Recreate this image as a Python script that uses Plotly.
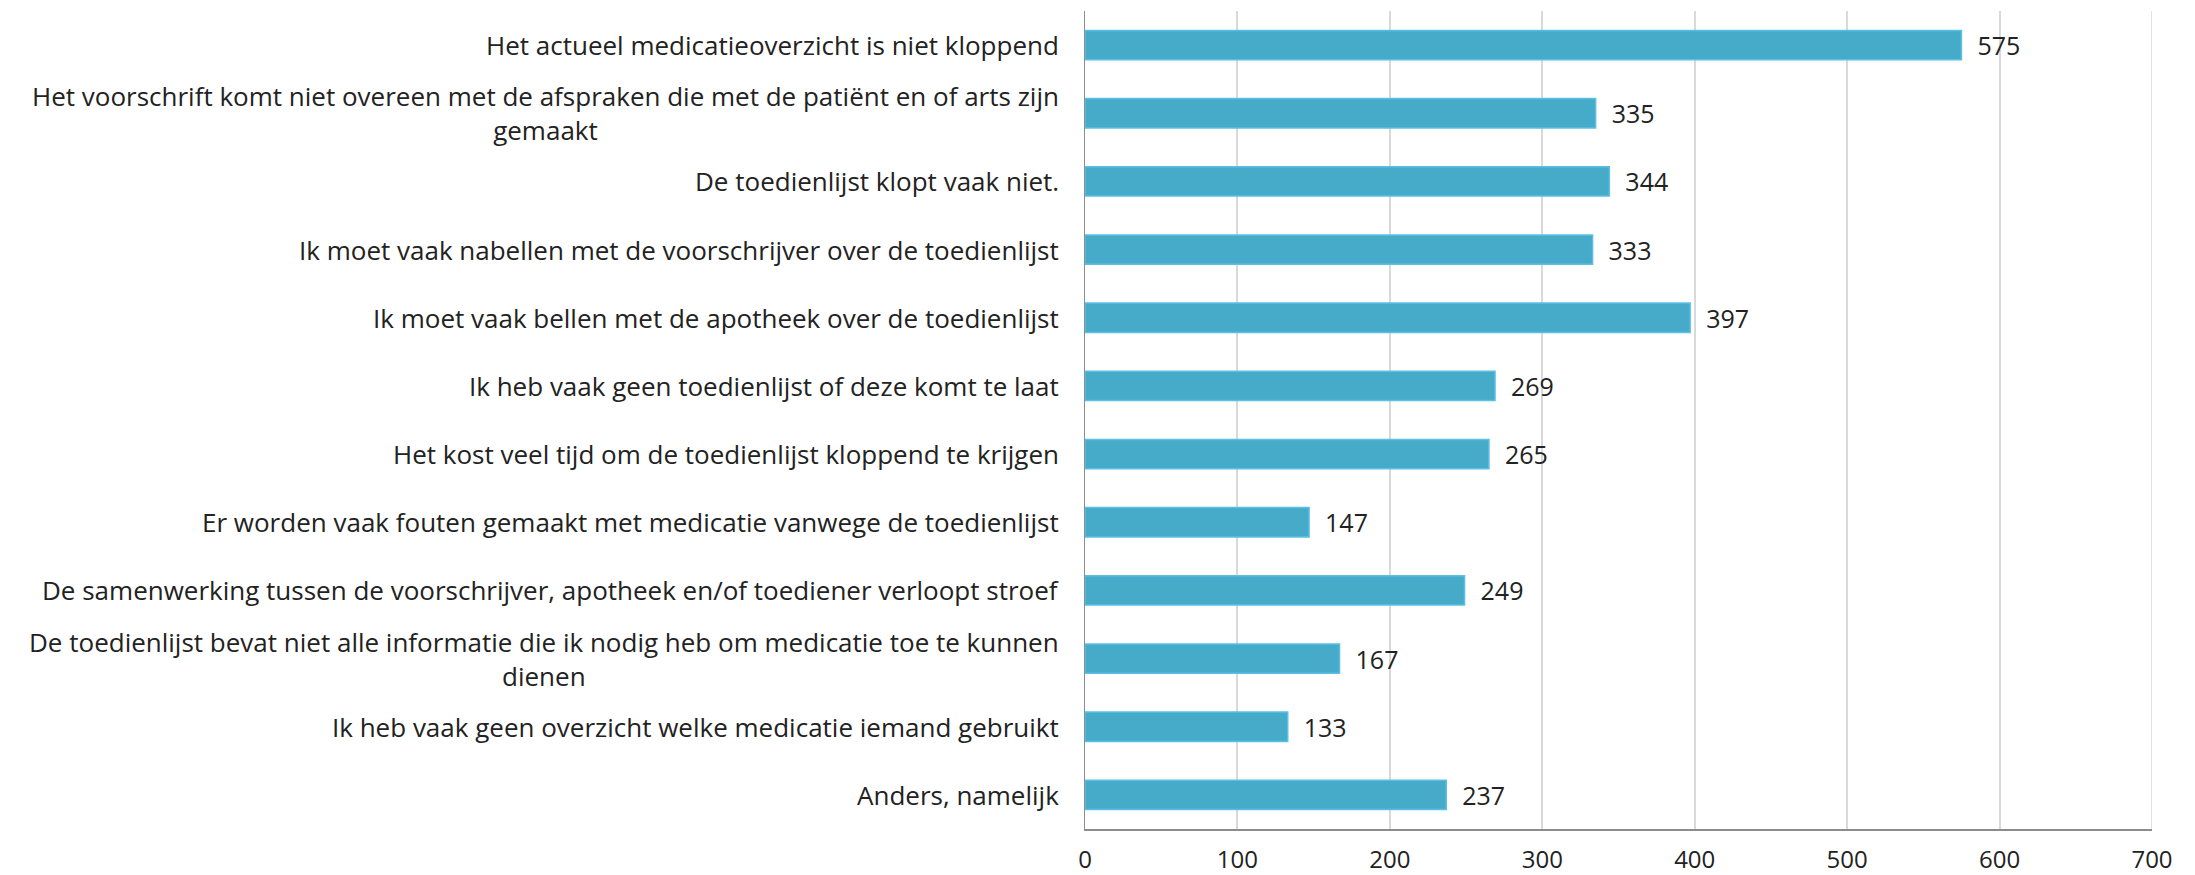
import plotly.graph_objects as go

categories = [
    "Het actueel medicatieoverzicht is niet kloppend",
    "Het voorschrift komt niet overeen met de afspraken die met de patiënt en of arts zijn<br>gemaakt",
    "De toedienlijst klopt vaak niet.",
    "Ik moet vaak nabellen met de voorschrijver over de toedienlijst",
    "Ik moet vaak bellen met de apotheek over de toedienlijst",
    "Ik heb vaak geen toedienlijst of deze komt te laat",
    "Het kost veel tijd om de toedienlijst kloppend te krijgen",
    "Er worden vaak fouten gemaakt met medicatie vanwege de toedienlijst",
    "De samenwerking tussen de voorschrijver, apotheek en/of toediener verloopt stroef",
    "De toedienlijst bevat niet alle informatie die ik nodig heb om medicatie toe te kunnen<br>dienen",
    "Ik heb vaak geen overzicht welke medicatie iemand gebruikt",
    "Anders, namelijk",
]
values = [575, 335, 344, 333, 397, 269, 265, 147, 249, 167, 133, 237]
x_ticks = [0, 100, 200, 300, 400, 500, 600, 700]

FONT = "'Open Sans', Lato, sans-serif"
TXT = "#222222"
FS = 25
FS_TICK = 24
FS_LAB = 26

ids = list(range(len(categories)))

fig = go.Figure(go.Bar(
    y=ids,
    x=values,
    orientation="h",
    width=0.43,
    marker=dict(color="#46AAC9", line=dict(color="#5BC0E6", width=1.5)),
    text=["\u00a0\u00a0" + str(v) for v in values],
    textposition="outside",
    constraintext="none",
    textfont=dict(family=FONT, size=FS, color=TXT),
    cliponaxis=False,
    hoverinfo="skip",
))

annotations = []
for i, c in zip(ids, categories):
    annotations.append(dict(
        x=0, xref="paper", y=i, yref="y",
        text=c, showarrow=False, xanchor="right", yanchor="middle",
        align="center", xshift=-24,
        font=dict(family=FONT, size=FS_LAB, color=TXT),
    ))

fig.update_layout(
    width=2187, height=867,
    margin=dict(l=1077, r=43, t=3, b=46, autoexpand=False),
    paper_bgcolor="white", plot_bgcolor="white",
    showlegend=False,
    annotations=annotations,
    xaxis=dict(
        range=[0, 700], tickvals=x_ticks, ticktext=[str(t) for t in x_ticks],
        showgrid=True, gridcolor="#D9D9D9", gridwidth=1.5,
        zeroline=False, showline=True, linecolor="#8C8C8C", linewidth=2,
        ticks="", ticklabelstandoff=8, automargin=False,
        tickfont=dict(family=FONT, size=FS_TICK, color=TXT),
    ),
    yaxis=dict(
        range=[11.5, -0.5], tickvals=ids, showticklabels=False, automargin=False,
        showgrid=False, zeroline=False, showline=True, linecolor="#8C8C8C", linewidth=1,
        ticks="",
    ),
    shapes=[dict(type="line", xref="x", yref="paper", x0=700, x1=700, y0=0, y1=1,
                 line=dict(color="#D9D9D9", width=1.5))],
)

fig.write_html("out.html")
